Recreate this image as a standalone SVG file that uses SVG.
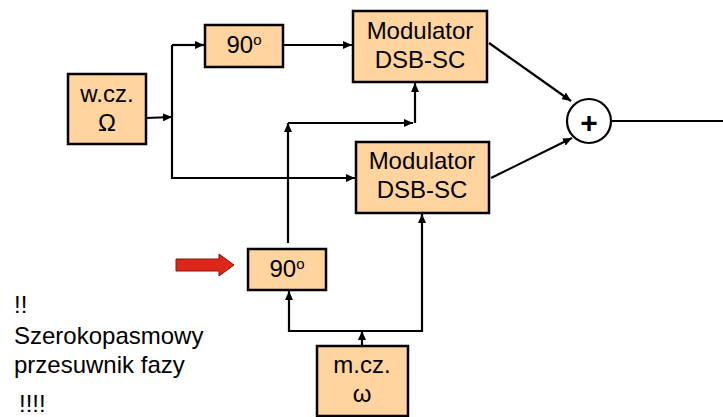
<svg xmlns="http://www.w3.org/2000/svg" width="723" height="417" viewBox="0 0 723 417">
<defs>
<style>
.box{fill:#FFD49F;stroke:#000;stroke-width:2.5}
.t{font-family:"Liberation Sans",Arial,sans-serif;font-size:24px;fill:#000;text-anchor:middle}
.tl{font-family:"Liberation Sans",Arial,sans-serif;font-size:24px;fill:#000}
.c{fill:none;stroke:#000;stroke-width:2.2}
</style>
<marker id="ah" markerUnits="userSpaceOnUse" markerWidth="10" markerHeight="8" refX="9" refY="4" orient="auto">
<path d="M0,0 L9,4 L0,8 z" fill="#000"/>
</marker>
</defs>
<g id="connectors">
<line class="c" x1="146" y1="118" x2="172" y2="117" marker-end="url(#ah)"/>
<polyline class="c" points="172,117 172,45"/>
<polyline class="c" points="172,45 204,45" marker-end="url(#ah)"/>
<polyline class="c" points="172,117 172,178 355,178" marker-end="url(#ah)"/>
<line class="c" x1="283" y1="45" x2="352" y2="45" marker-end="url(#ah)"/>
<line class="c" x1="288" y1="243" x2="288" y2="123" marker-end="url(#ah)"/>
<line class="c" x1="288" y1="123" x2="413" y2="123" marker-end="url(#ah)"/>
<line class="c" x1="415" y1="123" x2="415" y2="83" marker-end="url(#ah)"/>
<line class="c" x1="362" y1="346" x2="362" y2="331" marker-end="url(#ah)"/>
<polyline class="c" points="422,331 289,331 289,291" marker-end="url(#ah)"/>
<polyline class="c" points="362,331 422,331 422,214" marker-end="url(#ah)"/>
<line class="c" x1="489" y1="43" x2="571" y2="101" marker-end="url(#ah)"/>
<line class="c" x1="491" y1="178" x2="572" y2="138" marker-end="url(#ah)"/>
<line class="c" x1="611" y1="121" x2="723" y2="121"/>
</g>
<g id="wcz">
<rect class="box" x="68" y="74" width="78" height="70"/>
<text class="t" x="107" y="102">w.cz.</text>
<text class="t" x="107" y="131">Ω</text>
</g>
<g id="ps1">
<rect class="box" x="205" y="25" width="78" height="42"/>
<text class="t" x="244" y="53">90<tspan font-size="15" dy="-8">o</tspan></text>
</g>
<g id="mod1">
<rect class="box" x="353" y="11" width="134" height="71"/>
<text class="t" x="420" y="39">Modulator</text>
<text class="t" x="420" y="68">DSB-SC</text>
</g>
<g id="mod2">
<rect class="box" x="356" y="142" width="133" height="71"/>
<text class="t" x="422" y="169">Modulator</text>
<text class="t" x="422" y="198">DSB-SC</text>
</g>
<g id="sum">
<circle cx="589" cy="121" r="22" fill="#fff" stroke="#000" stroke-width="2.2"/>
<text class="t" x="589" y="133" style="font-size:30px;font-weight:bold">+</text>
</g>
<g id="ps2">
<rect class="box" x="248" y="249" width="78" height="41"/>
<text class="t" x="287" y="277">90<tspan font-size="15" dy="-8">o</tspan></text>
</g>
<g id="mcz">
<rect class="box" x="317" y="346" width="91" height="70"/>
<text class="t" x="362" y="373">m.cz.</text>
<text class="t" x="362" y="402">ω</text>
</g>
<g id="redarrow">
<path d="M176,259 L219,259 L219,254 L234,265 L219,276 L219,271 L176,271 z" fill="#E0261A" stroke="#7a1a10" stroke-width="1"/>
</g>
<g id="notes">
<text class="tl" x="14" y="313">!!</text>
<text class="tl" x="14" y="344">Szerokopasmowy</text>
<text class="tl" x="14" y="373">przesuwnik fazy</text>
<text class="tl" x="19" y="412">!!!!</text>
</g>
</svg>
